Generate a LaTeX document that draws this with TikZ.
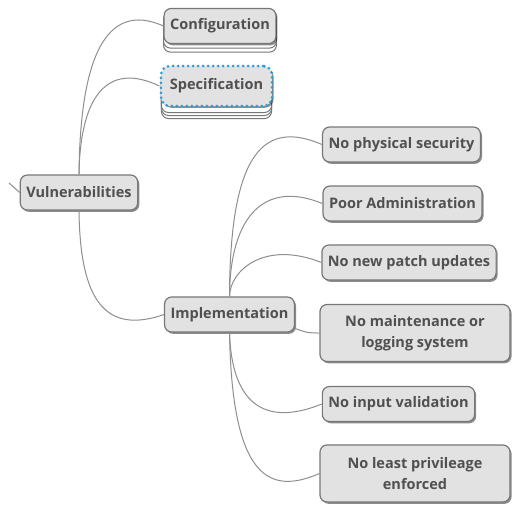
\documentclass[tikz,border=0pt]{standalone}
\usepackage{fontspec}
\setmainfont{Open Sans}
\usetikzlibrary{backgrounds,%
		shadows,%
		positioning}
\definecolor{boxfill}{HTML}{E2E2E2}
\definecolor{boxline}{HTML}{777777}
\definecolor{txtgray}{HTML}{505050}
\definecolor{linkgray}{HTML}{8E8E8E}
\definecolor{selblue}{HTML}{2A9ED8}
\begin{document}
\begin{tikzpicture}[x=1pt,y=-1pt,
	topic/.style={draw=boxline, line width=1.2pt, fill=boxfill, rounded corners=7pt,
		minimum height=35pt, inner xsep=6pt, text=txtgray, align=center,
		font=\fontsize{14.5}{21}\selectfont\bfseries,
		drop shadow={shadow xshift=1.6pt, shadow yshift=-1.8pt, fill=black, opacity=.45}},
	wide/.style={minimum width=190pt, minimum height=57pt},
	page/.style={draw=boxline, line width=1pt, fill=white, rounded corners=7pt},
	selbox/.style={draw=selblue, line width=3pt, line cap=round, rounded corners=9pt,
		dash pattern=on 0pt off 5pt, minimum height=40pt, inner xsep=9pt},
	link/.style={draw=linkgray, line width=1pt}]
\useasboundingbox (0,0) rectangle (512,504);
%radice
\node[topic] (V) at (79,192.5) {Vulnerabilities};
\node[topic] (C) at (220,26) {Configuration};
\node[topic,selbox] (S) at (216.5,86) {Specification};
\node[topic] (I) at (229.5,314.5) {Implementation};
%rami di Implementation
\node[topic] (N1) at (401.5,144.5) {No physical security};
\node[topic] (N2) at (402.5,203.5) {Poor Administration};
\node[topic] (N3) at (409,262.5) {No new patch updates};
\node[topic,wide] (N4) at (415,333) {No maintenance or\\logging system};
\node[topic] (N5) at (398.5,404) {No input validation};
\node[topic,wide] (N6) at (415,473.5) {No least privileage\\enforced};
%fogli sotto
\begin{scope}[on background layer]
\draw[page] ([yshift=-8pt]C.south west) rectangle ([yshift=-8pt]C.north east);
\draw[page] ([yshift=-4pt]C.south west) rectangle ([yshift=-4pt]C.north east);
\draw[page] ([shift={(2pt,-11pt)}]S.south west) rectangle ([shift={(-2pt,-11pt)}]S.north east);
\draw[page] ([shift={(2pt,-8pt)}]S.south west) rectangle ([shift={(-2pt,-8pt)}]S.north east);
\draw[page] ([shift={(2pt,-5pt)}]S.south west) rectangle ([shift={(-2pt,-5pt)}]S.north east);
\end{scope}
%collegamenti
\coordinate (R) at (9,183);
\draw[link] (R) -- (V.west);
\draw[link] (V.north) .. controls (80,60) and (105,0) .. (C.west);
\draw[link] (V.north) .. controls (80,100) and (105,60) .. (S.west);
\draw[link] (V.south) .. controls (80,300) and (105,335) .. (I.west);
\draw[link] (I.north) .. controls (230,150) and (265,120) .. (N1.west);
\draw[link] (I.north) .. controls (230,215) and (265,180) .. (N2.west);
\draw[link] (I.north) .. controls (230,270) and (265,240) .. (N3.west);
\draw[link] (I.-12) .. controls (308,333) .. (N4.west);
\draw[link] (I.south) .. controls (232,410) and (270,425) .. (N5.west);
\draw[link] (I.south) .. controls (232,480) and (270,495) .. (N6.west);
\end{tikzpicture}
\end{document}
